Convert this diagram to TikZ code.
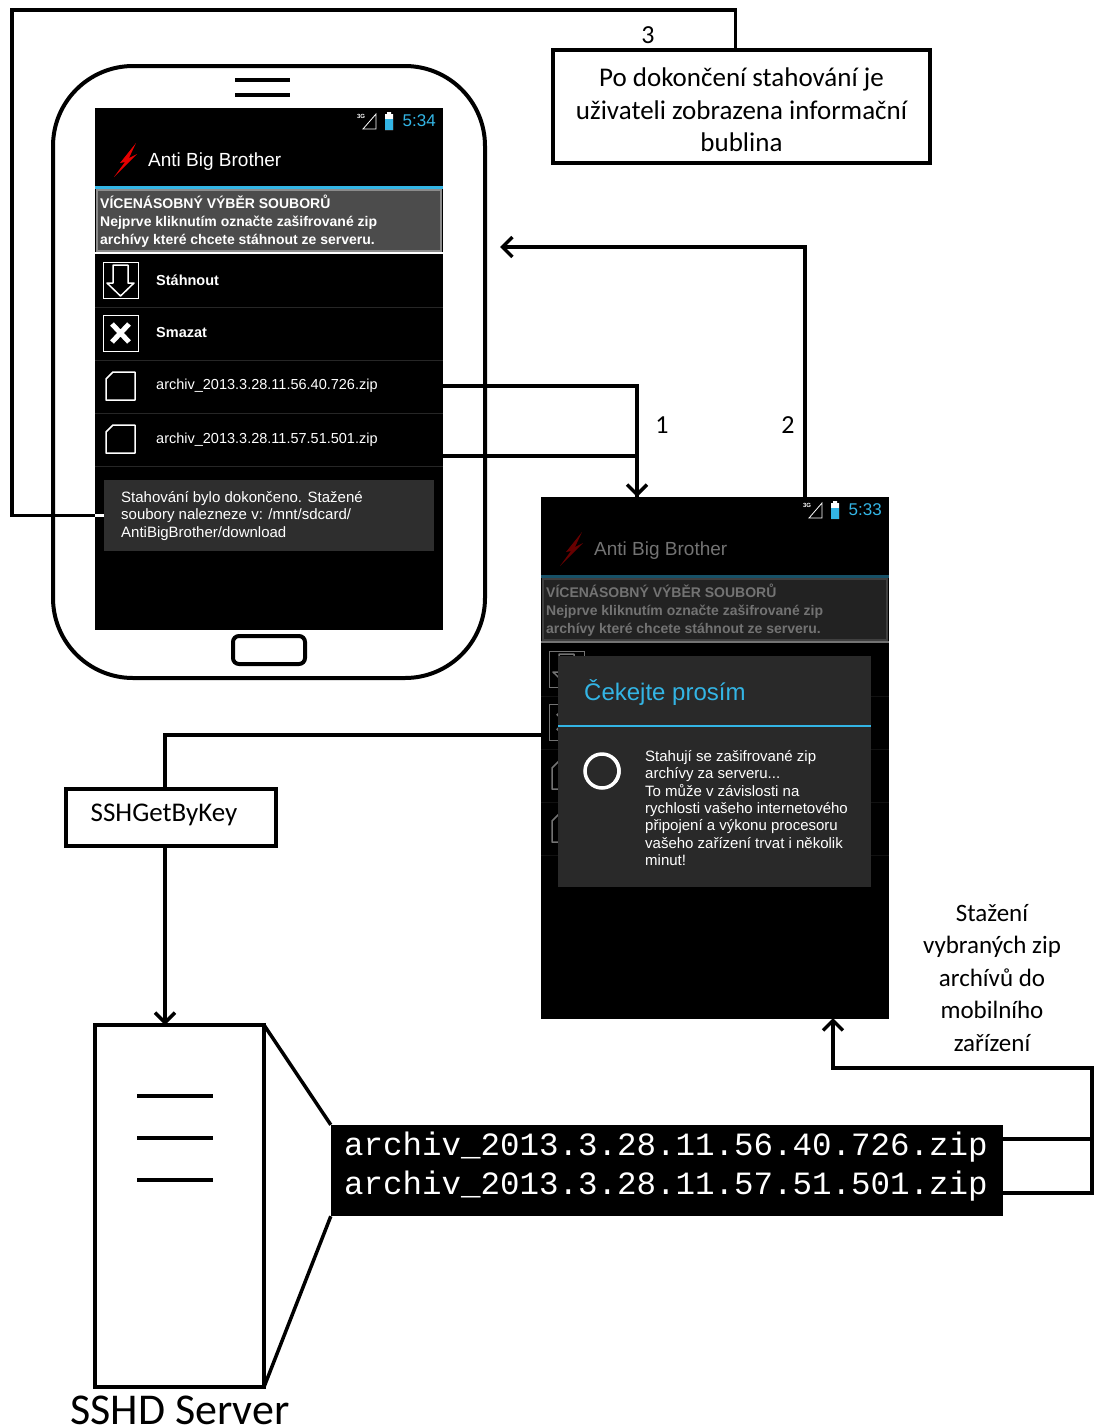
\documentclass[tikz,border=0pt]{standalone}
\usepackage{fontspec}
\setmainfont{Carlito}
\setmonofont{Liberation Mono}
\newfontfamily\droid{Liberation Sans}
\usetikzlibrary{arrows.meta, positioning}
\definecolor{holo}{HTML}{33B5E5}
\colorlet{hintfill}{black!70}
\colorlet{hintedge}{black!45}
\colorlet{rowrule}{black!85}
\colorlet{bubblefill}{black!82}
\colorlet{dialogfill}{black!84}
\newcommand{\notefont}{\fontsize{27}{32.5}\selectfont}
\newcommand{\hintfont}{\droid\bfseries\fontsize{14}{18}\selectfont}
\newcommand{\rowfont}{\droid\fontsize{14.5}{17}\selectfont}
\newcommand{\msgfont}{\droid\fontsize{15}{17.5}\selectfont}
\newcommand{\waitfont}{\droid\fontsize{15}{17.3}\selectfont}
\tikzset{
  link/.style={line width=3.5pt},
  >={Straight Barb[length=10pt,width=20pt,line width=3.5pt]},
  box/.style={draw, line width=3.5pt, inner sep=0pt, outer sep=0pt},
  plain/.style={inner sep=0pt, font=\notefont, align=center},
  screen/.style={fill=black, inner sep=0pt, outer sep=0pt, minimum width=348pt, minimum height=522pt},
  row/.style={inner sep=0pt, outer sep=0pt, minimum width=348pt, minimum height=53pt},
  rowtext/.style={anchor=west, inner sep=0pt, text=white!80, font=\rowfont},
  icon/.style={white, line width=1.5pt, line join=round},
  iconframe/.style={draw=white!55, line width=1pt},
  bolt/.pic={\fill[red!90!black] (11,-17) -- (-5,3) -- (0,2) -- (-11,17) -- (12,-6) -- (4,-2) -- cycle;}
}
% one app screen, drawn from its top left corner
\newcommand{\screenui}[1]{
  \node[anchor=east, inner sep=0pt, text=holo, font=\droid\fontsize{17}{17}\selectfont] (clock) at (341,13) {#1};
  \node[inner sep=0pt, text=white!70, font=\droid\bfseries\fontsize{6}{6}\selectfont] (net) at (266,8) {3G};
  \draw[white!60, line width=0.8pt] (268,21) -- (281,21) -- (281,6) -- cycle;
  \fill[white!80] (292,4) rectangle (296,6) (290,6) rectangle (298,22);
  \fill[holo] (290,11) rectangle (298,22);
  \pic at (30,52) {bolt};
  \node[anchor=west, inner sep=0pt, text=white!92, font=\droid\fontsize{19}{19}\selectfont] (title) at (53,54) {Anti Big Brother};
  \draw[holo, line width=3pt] (0,79) -- (348,79);
  \node[draw=hintedge, fill=hintfill, line width=1.5pt, minimum width=344pt, minimum height=61pt, inner sep=0pt] (hint) at (174,112.5) {};
  \node[anchor=west, inner sep=0pt, align=left, text=white!82, font=\hintfont] (hinttext) at (5,113)
    {VÍCENÁSOBNÝ VÝBĚR SOUBORŮ\\Nejprve kliknutím označte zašifrované zip\\archívy které chcete stáhnout ze serveru.};
  \draw[white!85, line width=2pt] (0,145) -- (348,145);
  \foreach \n/\y in {1/172,2/225,3/278,4/332}
    \node[row] (row\n) at (174,\y) {};
  \foreach \y in {199,252,305,358}
    \draw[rowrule, line width=1pt] (0,\y) -- (348,\y);
  \draw[iconframe] (8,154) rectangle (43,190) (8,207) rectangle (43,243);
  \draw[icon] (18,157) -- (33,157) -- (33,175) -- (39,175) -- (25.5,188) -- (12,175) -- (18,175) -- cycle;
  \draw[white, line width=5pt] (17,216) -- (34,234) (34,216) -- (17,234);
  \foreach \y in {264,317}
    \draw[icon] (18,\y) -- (40,\y) -- (40,\y+28) -- (11,\y+28) -- (11,\y+7) -- cycle;
}
\newcommand{\rowlabels}{
  \node[rowtext, font=\rowfont\bfseries] at (61,172) {Stáhnout};
  \node[rowtext, font=\rowfont\bfseries] at (61,225) {Smazat};
  \node[rowtext] at (61,278) {archiv\_2013.3.28.11.56.40.726.zip};
  \node[rowtext] at (61,332) {archiv\_2013.3.28.11.57.51.501.zip};
}

\begin{document}
\begin{tikzpicture}[x=1pt, y=-1pt]
  \useasboundingbox (0,0) rectangle (1094,1427);

  % phone with the finished download
  \node[box, line width=4pt, rounded corners=80pt, minimum width=432pt, minimum height=612pt] (phoneA) at (269,372) {};
  \draw[line width=4pt] (235,80) -- (290,80) (235,95) -- (290,95);
  \node[box, line width=4pt, rounded corners=6pt, minimum width=72pt, minimum height=28pt] (homeA) at (269,650) {};
  \node[screen] (scrA) at (269,369) {};
  \begin{scope}[shift={(scrA.north west)}, name prefix=A-]
    \screenui{5:34}
    \rowlabels
    \node[fill=bubblefill, minimum width=330pt, minimum height=71pt, inner sep=0pt] (bubble) at (174,407.5) {};
    \node[anchor=west, inner sep=0pt, align=left, text=white!95, font=\msgfont] (bubbletext) at (26,408)
      {Stahování bylo dokončeno. Stažené\\soubory nalezneze v: /mnt/sdcard/\\AntiBigBrother/download};
  \end{scope}

  % second screen with the progress dialog
  \node[screen] (scrB) at (715,758) {};
  \begin{scope}[shift={(scrB.north west)}, name prefix=B-]
    \screenui{5:33}
    \fill[black, opacity=0.55] (0,22) rectangle (348,522);
    \node[fill=dialogfill, minimum width=313pt, minimum height=231pt, inner sep=0pt] (dialog) at (173.5,274.5) {};
    \node[anchor=west, inner sep=0pt, text=holo, font=\droid\fontsize{24}{24}\selectfont] (wait) at (43,195) {Čekejte prosím};
    \draw[holo, line width=2.5pt] (17,229) -- (330,229);
    \draw[white!50, line width=3.5pt] (61,274) circle[radius=17pt];
    \draw[white!85, line width=3.5pt] (61,274) ++(-40:17pt) arc[start angle=-40, end angle=50, radius=17pt];
    \node[anchor=west, inner sep=0pt, align=left, text=white!80, font=\waitfont] (waitmsg) at (104,311)
      {Stahují se zašifrované zip\\archívy za serveru...\\To může v závislosti na\\rychlosti vašeho internetového\\připojení a výkonu procesoru\\vašeho zařízení trvat i několik\\minut!};
  \end{scope}

  \node[box, minimum width=377pt, minimum height=113pt] (note) at (741.5,106.5) {};
  \node[plain] (notetext) at (741.5,110) {Po dokončení stahování je\\uživateli zobrazena informační\\bublina};
  \node[box, minimum width=210pt, minimum height=57pt] (gbk) at (171,817.5) {};
  \node[plain] (gbktext) at (164,815) {SSHGetByKey};

  % server and its listing
  \node[box, line width=4pt, minimum width=169pt, minimum height=362pt] (srv) at (179.5,1206) {};
  \foreach \y in {1096,1138,1180}
    \draw[line width=4pt] (137,\y) -- (213,\y);
  \node[plain, font=\fontsize{44}{44}\selectfont] (srvname) at (180,1410) {SSHD Server};
  \node[fill=black, minimum width=672pt, minimum height=91pt, inner sep=0pt] (code) at (667,1170.5) {};
  \node[inner sep=0pt, align=left, text=white!90, font=\ttfamily\fontsize{32.5}{39}\selectfont] (codetext) at (666,1166.5)
    {archiv\_2013.3.28.11.56.40.726.zip\\archiv\_2013.3.28.11.57.51.501.zip};
  \draw[link] (srv.north east) -- (code.north west);
  \draw[link] (srv.south east) -- (code.south west);

  \coordinate (in1) at (637,497);
  \coordinate (out2) at (805,497);
  \coordinate (in2) at (500,247);
  \coordinate (ask) at (541,735);
  \coordinate (in5) at (833,1018);

  \draw[link] (A-row3.east) -| (in1);
  \draw[link,->] ([yshift=-16pt]A-row4.east) -| (in1);
  \draw[link,->] (out2) |- (in2);
  \draw[link] (A-bubble.west) -| (12,10) -| ([xshift=-6pt]note.north);
  \draw[link, white] (A-bubble.west) -- (A-bubble.west -| scrA.west);
  \draw[link] (ask) -| ([xshift=-6pt]gbk.north);
  \draw[link,->] ([xshift=-6pt]gbk.south) -- ([xshift=-6pt]gbk.south |- srv.north);
  \draw[link] ([yshift=31.5pt]code.east) -- ++(89,0);
  \draw[link,->] ([yshift=-22.5pt]code.east) -| (1092,1068) -| (in5);

  \node[plain, font=\fontsize{26}{26}\selectfont] (lab1) at (662,425) {1};
  \node[plain, font=\fontsize{26}{26}\selectfont] (lab2) at (788,425) {2};
  \node[plain, font=\fontsize{26}{26}\selectfont] (lab3) at (648,35) {3};
  \node[plain, font=\fontsize{25}{32.5}\selectfont] (dltext) at (992,978) {Stažení\\vybraných zip\\archívů do\\mobilního\\zařízení};
\end{tikzpicture}
\end{document}
